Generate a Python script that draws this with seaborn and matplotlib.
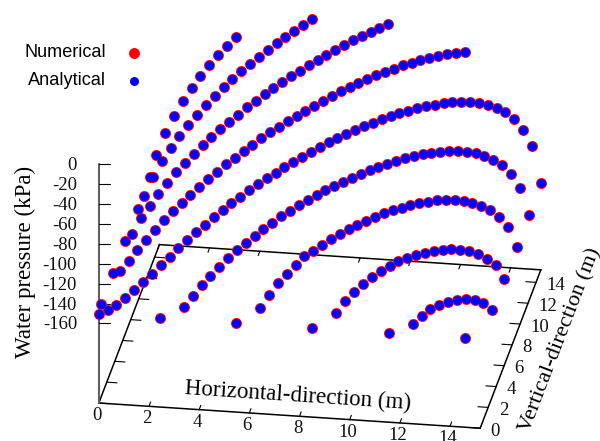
from __future__ import annotations

import matplotlib

matplotlib.use("Agg")

import matplotlib.pyplot as plt
import pandas as pd
import seaborn as sns

# mesh coordinate along both horizontal and vertical direction (m)
GRID_M = [
    0.0, 0.304, 0.608, 0.912, 1.216, 1.52, 1.824, 2.128, 2.432, 2.736,
    3.04, 3.344, 3.648, 3.952, 4.256, 4.56, 4.864, 5.168, 5.472, 5.776,
    6.08, 6.384, 6.688, 6.992, 7.296, 7.6, 7.904, 8.208, 8.512, 8.816,
    9.12, 9.424, 9.728, 10.032, 10.336, 10.64, 10.944, 11.248, 11.552, 11.856,
    12.16, 12.464, 12.768, 13.072, 13.376, 13.68, 13.984, 14.288, 14.592, 14.896,
    15.2,
]

# water pressure (kPa) along each mesh diagonal, from the left end of the arc
DIAG_M12 = [-120.7, -101.2, -86.8, -74.4, -64, -54.6, -46.2, -38.8, -32.4, -26.1]
DIAG_M9 = [
    -130, -113.6, -100.2, -89.8, -80.4, -72, -64.6, -57.2, -50.9, -44.5,
    -39.1, -33.8, -29.4, -25, -20.7, -16.3, -12.9, -9.6, -6.2, -2.9,
]
DIAG_M6 = [
    -136.4, -123, -113.6, -104.2, -95.8, -87.4, -81, -74.7, -68.3, -62.9,
    -57.6, -53.2, -48.8, -43.5, -40.1, -35.7, -32.4, -29, -25.7, -23.3,
    -20, -17.6, -15.3, -12.9, -10.6, -8.2, -6.9, -5.5, -4.2, -2.8,
]
DIAG_M3 = [
    -141.8, -134.4, -126, -118.6, -111.2, -103.8, -97.5, -92.1, -86.7, -81.4,
    -76, -71.6, -66.3, -62.9, -58.5, -55.2, -50.8, -47.5, -45.1, -41.8,
    -39.4, -37.1, -34.7, -32.4, -30, -27.7, -26.3, -25, -23.6, -22.3,
    -21.9, -21.6, -20.2, -20.9, -20.6, -21.2, -21.9, -22.6, -24.3, -25.9,
]
DIAG_0 = [
    -150.5, -149.1, -146.8, -142.4, -137, -131.7, -126.3, -119.9, -114.6, -108.2,
    -102.8, -97.4, -93.1, -87.7, -83.3, -79, -75.6, -71.3, -67.9, -64.6,
    -62.2, -58.8, -56.5, -54.1, -51.8, -49.4, -47.1, -45.7, -44.4, -43.1,
    -41.7, -41.4, -40, -39.7, -39.3, -40, -39.7, -40.3, -42, -42.7,
    -44.4, -47, -49.7, -53.4, -58.1, -63.8, -70.5, -80.2, -94, -112.7,
    -152.6,
]
DIAG_P3 = [
    -141, -132.6, -124.2, -117.9, -111.5, -105.1, -99.8, -95.4, -91, -86.7,
    -83.3, -78.9, -76.6, -73.2, -70.9, -68.5, -66.2, -64.8, -63.5, -62.1,
    -60.8, -59.5, -59.1, -58.8, -58.4, -58.1, -58.8, -59.4, -61.1, -62.8,
    -64.5, -67.1, -70.8, -74.5, -80.2, -86.9, -94.6, -106.3, -123.1, -152.9,
]
DIAG_P6 = [
    -137, -126.6, -117.2, -110.8, -104.4, -98, -95.7, -92.3, -89, -86.6,
    -84.3, -82.9, -81.6, -80.2, -78.9, -78.6, -79.2, -78.9, -79.6, -81.2,
    -81.9, -84.6, -87.2, -90.9, -95.6, -101.3, -108, -117.7, -130.5, -153.3,
]
DIAG_P9 = [
    -136.9, -127.5, -121.1, -115.8, -111.4, -108.1, -105.7, -103.3, -103, -102.7,
    -103.3, -104, -105.7, -107.3, -111, -114.7, -120.4, -128.1, -136.8, -153.6,
]
DIAG_P12 = [-142.9, -137.5, -133.2, -131.8, -131.5, -132.1, -133.8, -137.5, -143.2, -152.9]

# grid index of the first point of each diagonal (horizontal, vertical)
DIAG_STARTS = [(1, 41), (1, 31), (1, 21), (1, 11), (0, 0), (11, 1), (21, 1), (31, 1), (41, 1)]
DIAGONALS = [DIAG_M12, DIAG_M9, DIAG_M6, DIAG_M3, DIAG_0, DIAG_P3, DIAG_P6, DIAG_P9, DIAG_P12]

# isolated points next to the two edges of the domain
BOTTOM_EDGE_X = [2.432, 5.472, 8.512, 11.552, 14.592]
BOTTOM_EDGE_P = [-150.4, -150.4, -150.3, -150.3, -150.3]
LEFT_EDGE_Y = [0.608, 3.648, 6.688, 9.728, 12.768]
LEFT_EDGE_P = [-146.8, -147.4, -147.1, -146.8, -146.4]

X_TICKS = [0, 2, 4, 6, 8, 10, 12, 14]
Y_TICKS = [0, 2, 4, 6, 8, 10, 12, 14]
Z_TICKS = [0, -20, -40, -60, -80, -100, -120, -140, -160]

AXIS_MAX = 15.2
Z_FLOOR = -240


def project(x, y, z):
    # fixed oblique view, same kind of projection gnuplot uses for splot
    return (
        98.8 + 25.09 * x + 3.99 * y,
        403.0 + 1.66 * x - 10.42 * y - 0.994 * (z - Z_FLOOR),
    )


def build_points() -> pd.DataFrame:
    rows = []
    for (ix, iy), pressures in zip(DIAG_STARTS, DIAGONALS):
        for k, p in enumerate(pressures):
            rows.append((GRID_M[ix + k], GRID_M[iy + k], p))
    for x, p in zip(BOTTOM_EDGE_X, BOTTOM_EDGE_P):
        rows.append((x, 0.0, p))
    for y, p in zip(LEFT_EDGE_Y, LEFT_EDGE_P):
        rows.append((0.0, y, p))
    df = pd.DataFrame(rows, columns=["x", "y", "pressure"])
    df["sx"], df["sy"] = project(df["x"], df["y"], df["pressure"])
    return df


def floor_line(ax, x0, y0, x1, y1, lw=1.0):
    sx0, sy0 = project(x0, y0, Z_FLOOR)
    sx1, sy1 = project(x1, y1, Z_FLOOR)
    ax.plot([sx0, sx1], [sy0, sy1], color="black", lw=lw, solid_capstyle="projecting", zorder=1)


def draw_frame(ax, serif) -> None:
    # floor rectangle
    corners = [(0, 0), (AXIS_MAX, 0), (AXIS_MAX, AXIS_MAX), (0, AXIS_MAX), (0, 0)]
    for (x0, y0), (x1, y1) in zip(corners, corners[1:]):
        floor_line(ax, x0, y0, x1, y1, lw=1.1)

    for t in X_TICKS:
        floor_line(ax, t, 0, t, 0.4, lw=0.8)
        floor_line(ax, t, AXIS_MAX, t, AXIS_MAX - 0.4, lw=0.8)
        sx, sy = project(t, 0, Z_FLOOR)
        ax.text(sx - 2, sy + 12.5, str(t), ha="center", va="center", **serif)

    for t in Y_TICKS:
        floor_line(ax, 0, t, 0.4, t, lw=0.8)
        floor_line(ax, AXIS_MAX, t, AXIS_MAX - 0.4, t, lw=0.8)
        sx, sy = project(AXIS_MAX, t, Z_FLOOR)
        ax.text(sx + 10.5, sy + 3, str(t), ha="left", va="center", **serif)

    # pressure axis
    sx, top = project(0, 0, 0)
    _, bottom = project(0, 0, Z_FLOOR)
    ax.plot([sx, sx], [top, bottom], color="#606060", lw=1.5, zorder=1)
    for t in Z_TICKS:
        _, sy = project(0, 0, t)
        ax.plot([sx, sx + 11], [sy, sy], color="black", lw=0.8, zorder=1)
        ax.text(77, sy + 1.5, str(t), ha="right", va="center", **serif)


def main() -> None:
    sns.set_theme(style="white")
    plt.rcParams["font.family"] = ["Liberation Serif", "DejaVu Sans"]
    serif = {"fontsize": 13.5, "color": "#111111"}
    title_font = {"fontsize": 16.6, "color": "black"}

    fig = plt.figure(figsize=(6.0, 4.41), dpi=100)
    ax = fig.add_axes([0, 0, 1, 1])
    ax.set_xlim(0, 600)
    ax.set_ylim(441, 0)
    ax.axis("off")

    draw_frame(ax, serif)

    points = build_points()
    sns.scatterplot(data=points, x="sx", y="sy", color="#ff0000", s=62, linewidth=0,
                    label="Numerical", ax=ax, zorder=3)
    sns.scatterplot(data=points, x="sx", y="sy", color="#0000ff", s=42, linewidth=0,
                    label="Analytical", ax=ax, zorder=4)
    ax.set_xlabel("")
    ax.set_ylabel("")

    ax.legend(
        loc="upper left",
        bbox_to_anchor=(0.025, 0.92),
        markerfirst=False,
        frameon=False,
        handletextpad=0.55,
        labelspacing=0.6,
        borderpad=0,
        labelcolor="black",
        prop={"family": "Liberation Sans", "size": 13.1},
    )

    ax.text(25.5, 262, "Water pressure (kPa)", rotation=90, ha="center", va="center", **title_font)
    ax.text(297.5, 396, "Horizontal-direction (m)", rotation=-3.8, rotation_mode="anchor",
            ha="center", va="center", **title_font)
    ax.text(560.5, 340, "Vertical-direction (m)", rotation=69, rotation_mode="anchor",
            ha="center", va="center", fontsize=16.2, color="black")

    fig.savefig("out.png", dpi=100)
    plt.close(fig)


if __name__ == "__main__":
    main()
